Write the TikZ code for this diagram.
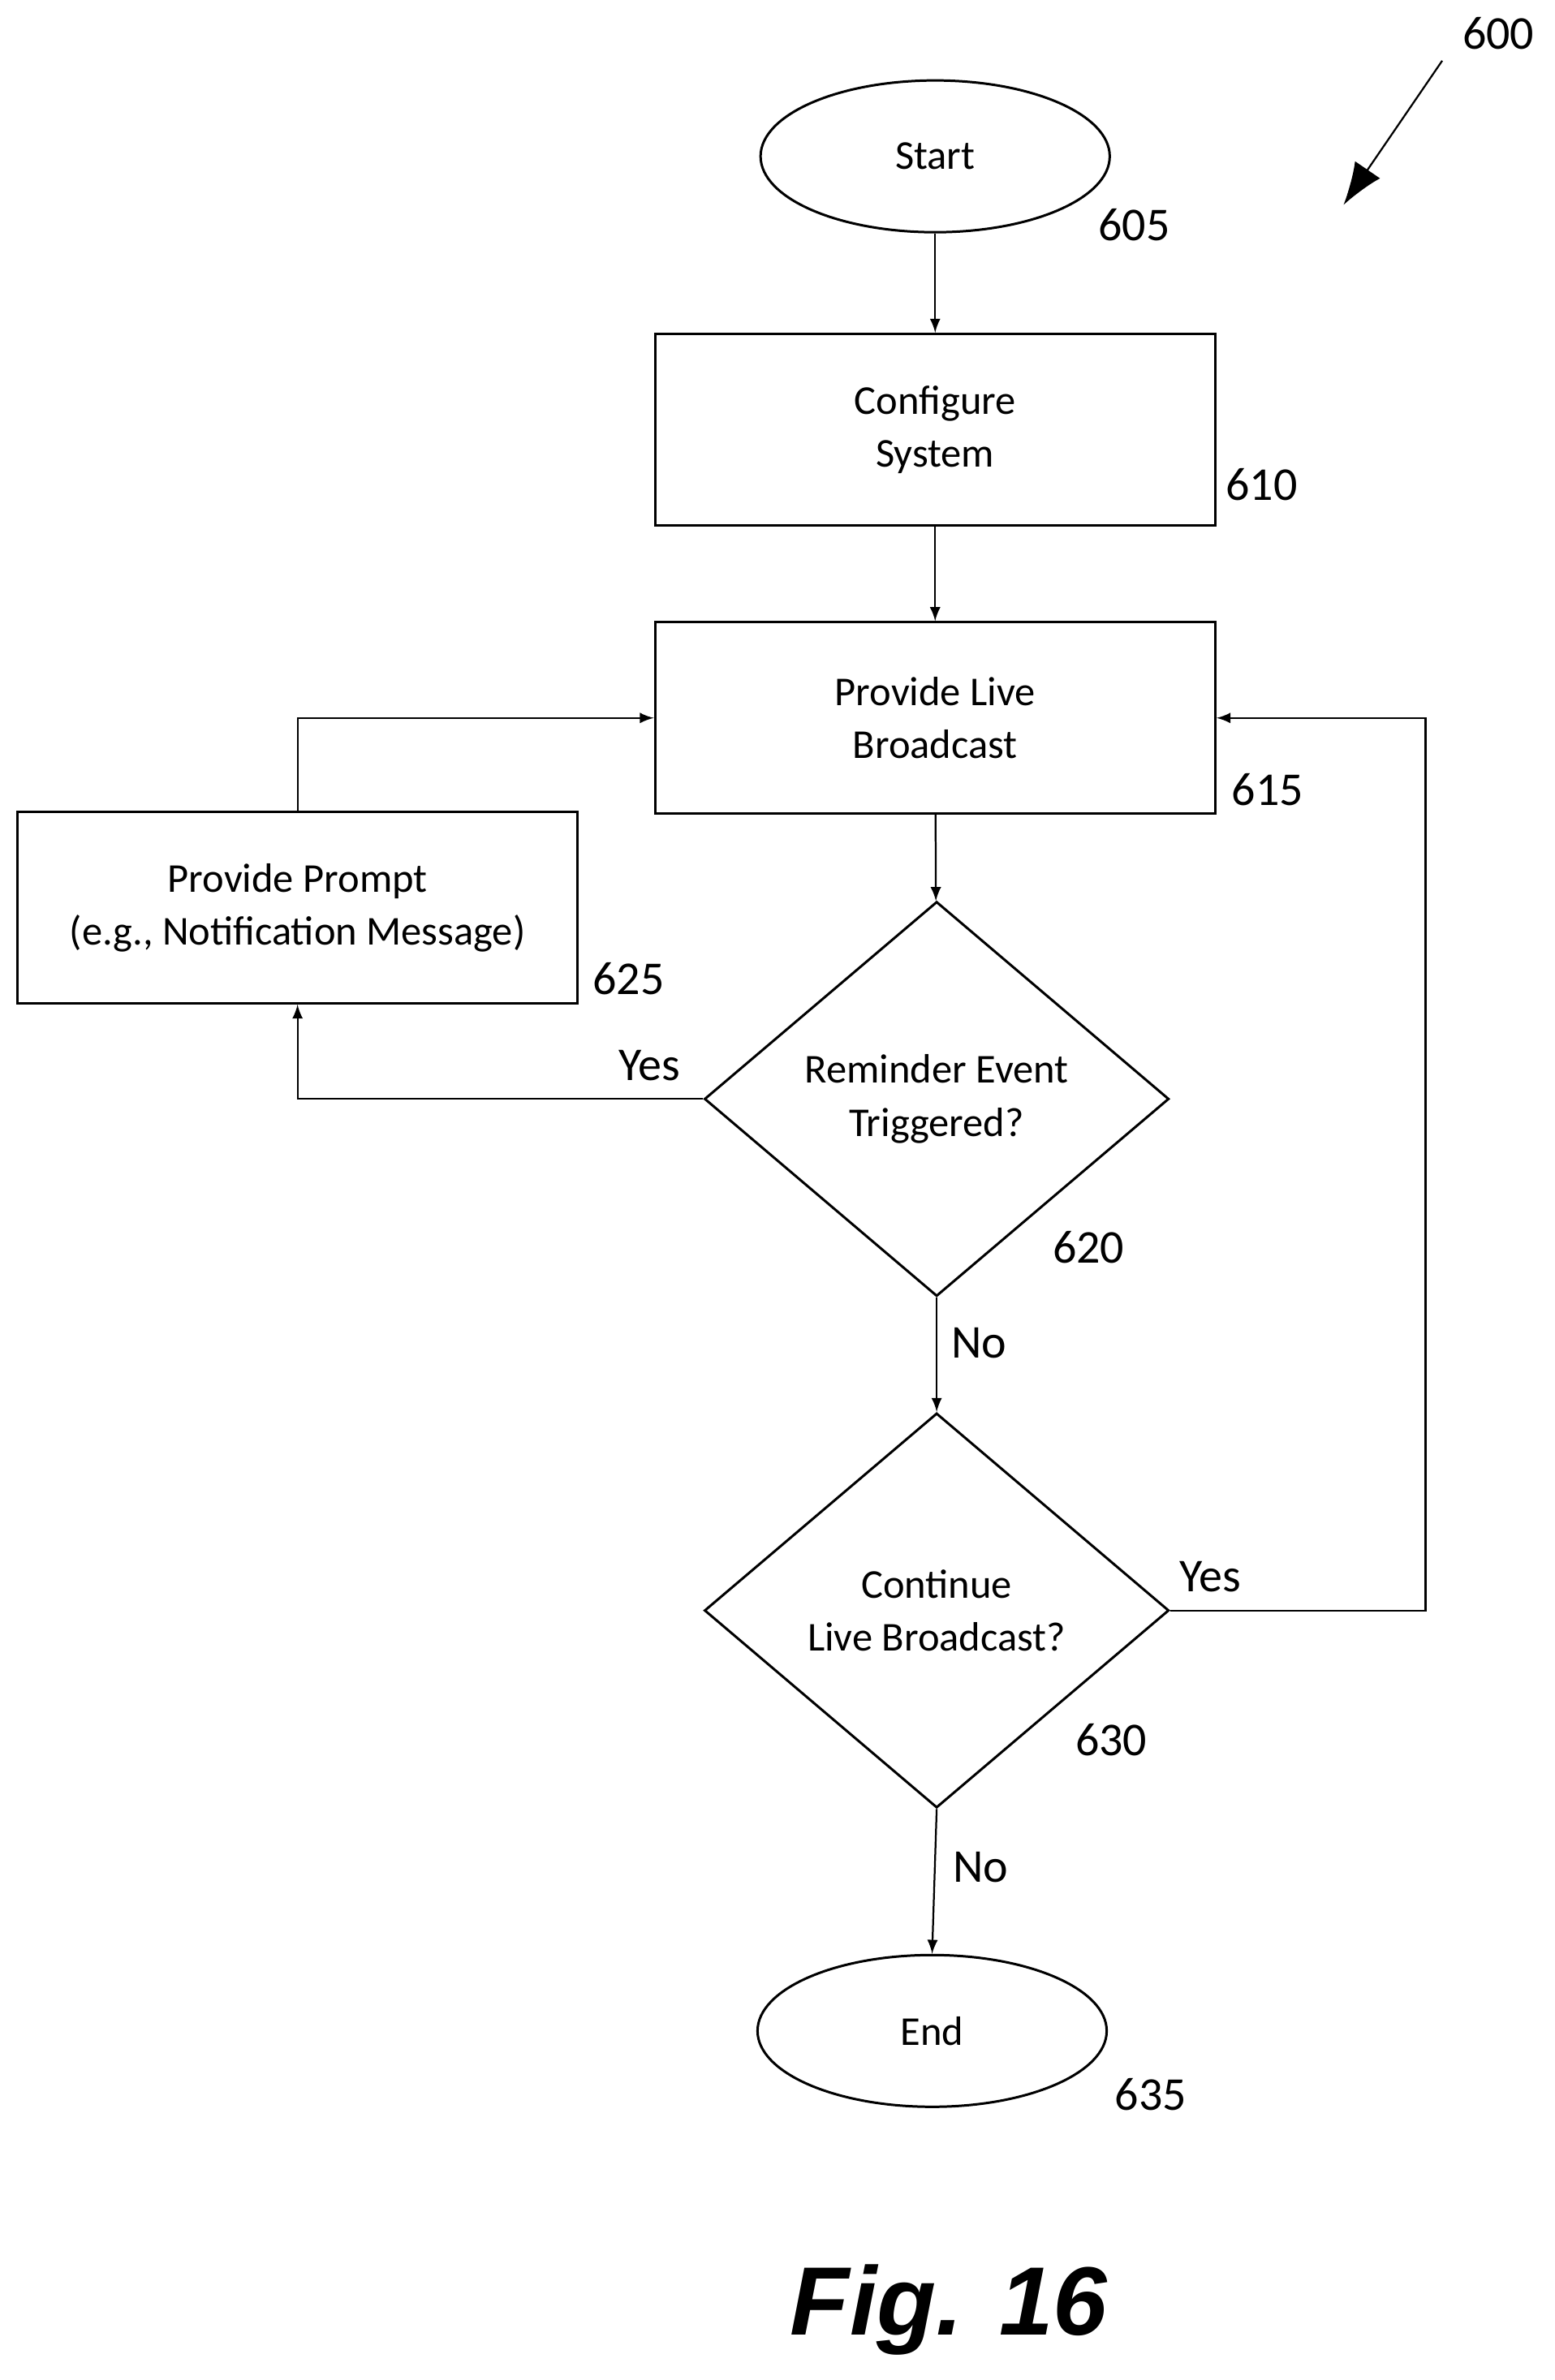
\documentclass[tikz,border=0pt]{standalone}
\usepackage{fontspec}
\setmainfont{Carlito}
\newfontfamily\figfont{Liberation Sans}
\usetikzlibrary{shapes.geometric, arrows, arrows.meta}
\tikzstyle{arrow} = [semithick,->,>=latex]
\tikzstyle{proc} = [draw, thick, rectangle, minimum width=184.5pt, minimum height=63pt, align=center, font=\fontsize{13.5}{17.5}\selectfont]
\tikzstyle{term} = [draw, thick, ellipse, minimum width=115pt, minimum height=50pt, inner sep=0pt, font=\fontsize{13.5}{17.5}\selectfont]
\tikzstyle{dec} = [draw, thick, diamond, minimum width=153pt, minimum height=130pt, inner sep=0pt, align=center, font=\fontsize{13.5}{17.5}\selectfont]
\tikzstyle{ref} = [font=\fontsize{15.5}{18}\selectfont]
\begin{document}
\begin{tikzpicture}[x=0.5pt,y=-0.5pt]
\useasboundingbox (0,0) rectangle (1024,1568);
\node[term] (start) at (616,103) {Start};
\node[proc] (config) at (616,283) {Configure\\System};
\node[proc] (live) at (616,473) {Provide Live\\Broadcast};
\node[proc] (prompt) at (196,598) {Provide Prompt\\(e.g., Notification Message)};
\node[dec] (remind) at (617,724) {Reminder Event\\Triggered?};
\node[dec] (cont) at (617,1061) {Continue\\Live Broadcast?};
\node[term] (end) at (614,1338) {End};
\coordinate (c1) at (196,473);
\coordinate (c2) at (939,1061);
\coordinate (c3) at (939,473);
\coordinate (c4) at (196,724);
\coordinate (a1) at (950,40);
\coordinate (a2) at (885,135);

\node[ref] (n605) at (747,148) {605};
\node[ref] (n610) at (831,319) {610};
\node[ref] (n615) at (835,520) {615};
\node[ref] (n625) at (414,645) {625};
\node[ref] (n620) at (717,822) {620};
\node[ref] (n630) at (732,1146) {630};
\node[ref] (n635) at (758,1380) {635};
\node[ref] (n600) at (987,22) {600};
\node[ref] (yes1) at (428,702) {Yes};
\node[ref] (no1) at (645,885) {No};
\node[ref] (yes2) at (797,1039) {Yes};
\node[ref] (no2) at (646,1230) {No};
\node (fig) at (625,1522) {\figfont\bfseries\itshape\fontsize{32}{38}\selectfont Fig. 16};

\draw[arrow] (start) -- (config);
\draw[arrow] (config) -- (live);
\draw[arrow] (live) -- (remind);
\draw[arrow] (remind) -- (cont);
\draw[arrow] (cont.south) -- (end.north);
\draw[arrow] (remind.west) -- (c4) -- (prompt.south);
\draw[arrow] (prompt.north) -- (c1) -- (live.west);
\draw[arrow] (cont.east) -- (c2) -- (c3) -- (live.east);
\draw[semithick,-{Latex[length=14pt,width=10pt]}] (a1) -- (a2);
\end{tikzpicture}
\end{document}
